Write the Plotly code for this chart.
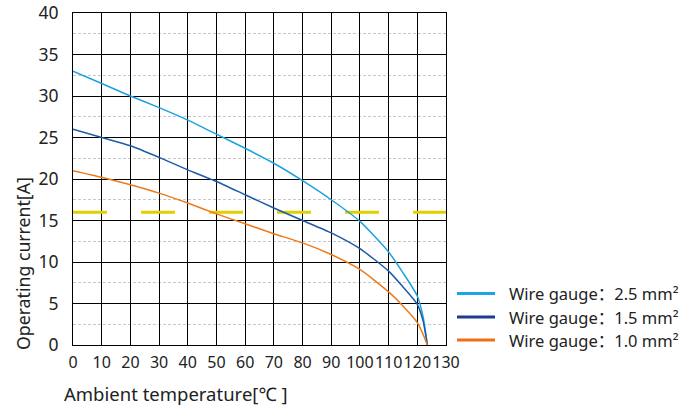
import plotly.graph_objects as go

# ---- data ----
temperature = [0, 10, 20, 30, 40, 50, 60, 70, 80, 90, 100, 110, 115, 120, 122, 123.5]
current_2_5 = [33.0, 31.5, 30.0, 28.6, 27.1, 25.4, 23.7, 21.9, 19.8, 17.5, 14.9, 11.2, 8.7, 5.9, 3.4, 0.0]
current_1_5 = [26.0, 25.0, 24.0, 22.6, 21.1, 19.7, 18.1, 16.5, 15.0, 13.5, 11.6, 8.9, 7.0, 4.9, 2.9, 0.0]
current_1_0 = [21.0, 20.2, 19.3, 18.3, 17.1, 15.8, 14.6, 13.4, 12.3, 10.9, 9.1, 6.4, 4.7, 2.7, 1.3, 0.0]
ref_x = [0, 130]
ref_y = [16, 16]

series_names = ["Wire gauge：2.5 mm²", "Wire gauge：1.5 mm²", "Wire gauge：1.0 mm²"]
series_values = [current_2_5, current_1_5, current_1_0]
line_colors = ["#1ba3e0", "#1b5ca8", "#f07a1a"]
legend_colors = ["#1aa6e2", "#1c3d8f", "#ef6e12"]

x_ticks = list(range(0, 131, 10))
y_ticks = list(range(0, 41, 5))

FONT = "Noto Sans, Noto Sans CJK SC"
TXT = "#222222"

fig = go.Figure()

fig.add_trace(go.Scatter(
    x=ref_x, y=ref_y, mode="lines",
    line=dict(color="#e0d000", width=3, dash="34px,34px"),
    showlegend=False, hoverinfo="skip"))

for name, vals, col in zip(series_names, series_values, line_colors):
    fig.add_trace(go.Scatter(
        x=temperature, y=vals, mode="lines", name=name,
        line=dict(color=col, width=1.5, shape="spline", smoothing=0.6),
        showlegend=False))

# layout geometry (body margin removed via post_script)
W, H = 699, 406
L, T = 73, 13
R = W - 446
B = H - T - 332
pw, ph = W - L - R, H - T - B
def px_x(px): return (px - L) / pw
def px_y(py): return (H - B - py) / ph

legend_y = [293.5, 317, 340]
shapes = []
annotations = []
for name, col, ly in zip(series_names, legend_colors, legend_y):
    shapes.append(dict(type="line", xref="paper", yref="paper",
                       x0=px_x(457), x1=px_x(495), y0=px_y(ly), y1=px_y(ly),
                       line=dict(color=col, width=3)))
    annotations.append(dict(xref="paper", yref="paper", x=px_x(507), y=px_y(ly),
                            xanchor="left", yanchor="middle", text=name, showarrow=False,
                            font=dict(family=FONT, size=16.5, color=TXT)))

annotations.append(dict(xref="paper", yref="paper", x=px_x(62), y=px_y(393),
                        xanchor="left", yanchor="middle", text="Ambient temperature[℃ ]",
                        showarrow=False, font=dict(family=FONT, size=18.5, color=TXT)))
annotations.append(dict(xref="paper", yref="paper", x=px_x(23), y=px_y(264),
                        xanchor="center", yanchor="middle", text="Operating current[A]",
                        textangle=-90, showarrow=False,
                        font=dict(family=FONT, size=17.7, color=TXT)))

fig.update_layout(
    width=W, height=H,
    margin=dict(l=L, r=R, t=T, b=B, autoexpand=False),
    paper_bgcolor="white", plot_bgcolor="white",
    font=dict(family=FONT, size=17, color=TXT),
    shapes=shapes, annotations=annotations,
    showlegend=False,
)

fig.update_xaxes(
    range=[0, 130], tickvals=x_ticks, ticktext=[str(v) for v in x_ticks],
    showgrid=True, gridcolor="#000000", gridwidth=1,
    showline=True, linecolor="#000000", linewidth=1, mirror=True,
    zeroline=False, ticks="", ticklabelstandoff=3, tickangle=0, automargin=False,
    ticklabeloverflow="allow",
    tickfont=dict(family=FONT, size=16, color=TXT),
)
fig.update_yaxes(
    range=[0, 40], tickvals=y_ticks, ticktext=[str(v) for v in y_ticks],
    showgrid=True, gridcolor="#000000", gridwidth=1,
    showline=True, linecolor="#000000", linewidth=1, mirror=True,
    zeroline=False, ticks="", ticklabelstandoff=10, automargin=False,
    ticklabeloverflow="allow",
    tickfont=dict(family=FONT, size=17.5, color=TXT),
    minor=dict(dtick=2.5, tick0=0, showgrid=True, gridcolor="#c8c8c8",
               griddash="3px,2px", gridwidth=1),
)

fig.write_html("out.html",
               config={"displayModeBar": False},
               post_script="document.body.style.margin='0';document.body.style.overflow='hidden';")
